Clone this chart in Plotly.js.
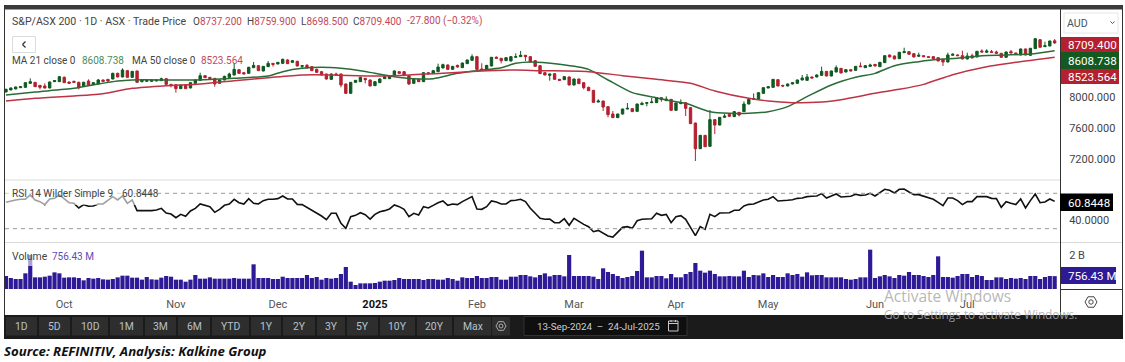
<!DOCTYPE html>
<html><head><meta charset="utf-8">
<script src="https://cdn.plot.ly/plotly-3.0.1.min.js"></script>
<style>html,body{margin:0;padding:0;background:#fff;overflow:hidden}#c{width:1125px;height:362px}</style>
</head><body><div id="c"></div>
<script>
const tickIndex=[12,35,56,76,97,117,138,157,179,198];
const tickLabels=['Oct','Nov','Dec','<b style="color:#111">2025</b>','Feb','Mar','Apr','May','Jun','Jul'];
const opens=[8072,8098,8111,8128,8132,8184,8197,8158,8150,8124,
8206,8206,8262,8202,8210,8197,8145,8215,8167,8176,
8228,8236,8241,8314,8267,8349,8262,8345,8206,8210,
8210,8215,8219,8245,8171,8167,8115,8167,8124,8184,
8223,8284,8262,8249,8184,8228,8262,8293,8362,8323,
8314,8388,8414,8345,8401,8444,8436,8444,8488,8457,
8470,8405,8418,8401,8366,8336,8306,8236,8306,8306,
8176,8054,8197,8206,8249,8228,8154,8193,8245,8245,
8284,8336,8336,8284,8184,8236,8206,8323,8310,8336,
8384,8423,8366,8418,8388,8440,8483,8531,8371,8362,
8410,8523,8510,8479,8475,8523,8531,8549,8531,8479,
8414,8323,8288,8310,8236,8232,8267,8163,8241,8193,
8132,8093,7941,7954,7881,7785,7738,7785,7850,7855,
7820,7907,7924,7933,7933,7998,7959,7976,7833,7920,
7933,7868,7668,7334,7508,7365,7712,7642,7742,7781,
7751,7807,7816,7915,7976,7976,8054,8124,8132,8232,
8158,8150,8176,8184,8228,8223,8267,8267,8288,8340,
8280,8332,8379,8332,8362,8353,8410,8388,8405,8431,
8401,8453,8553,8540,8505,8583,8596,8570,8536,8544,
8531,8531,8518,8497,8462,8549,8553,8544,8501,8544,
8527,8605,8588,8596,8592,8575,8523,8596,8579,8553,
8631,8549,8635,8752,8661,8670,8737.2];
const closes=[8106,8124,8137,8141,8193,8206,8141,8132,8124,8202,
8219,8271,8193,8184,8197,8128,8197,8158,8193,8228,
8210,8215,8314,8267,8358,8262,8340,8197,8228,8223,
8228,8228,8245,8171,8154,8115,8163,8115,8193,8228,
8284,8258,8245,8176,8228,8275,8306,8366,8314,8306,
8392,8418,8349,8405,8444,8431,8457,8497,8440,8479,
8410,8414,8384,8349,8327,8293,8241,8306,8297,8163,
8054,8197,8223,8262,8232,8150,8206,8241,8271,8284,
8345,8314,8284,8176,8236,8206,8323,8310,8349,8397,
8427,8366,8405,8397,8449,8488,8531,8366,8358,8418,
8523,8510,8479,8518,8531,8531,8549,8531,8462,8405,
8310,8293,8306,8236,8223,8271,8163,8241,8180,8128,
8089,7937,7954,7876,7777,7738,7785,7850,7859,7816,
7915,7924,7933,7941,7998,7972,7980,7833,7928,7933,
7859,7660,7334,7508,7360,7712,7642,7742,7759,7755,
7816,7772,7915,7976,7985,8063,8128,8141,8236,8150,
8150,8176,8193,8228,8254,8267,8254,8293,8340,8280,
8345,8388,8319,8362,8345,8405,8401,8414,8423,8410,
8457,8544,8527,8501,8588,8596,8562,8527,8549,8531,
8523,8505,8475,8462,8553,8562,8544,8501,8540,8514,
8601,8592,8605,8588,8575,8523,8592,8579,8557,8631,
8553,8640,8765,8653,8674,8735,8709.4];
const highs=[8115,8128,8141,8150,8197,8249,8202,8163,8184,8206,
8223,8279,8275,8206,8219,8206,8206,8236,8197,8241,
8232,8241,8323,8323,8379,8358,8345,8349,8232,8232,
8236,8232,8258,8249,8176,8171,8167,8171,8202,8236,
8323,8288,8267,8254,8232,8284,8323,8444,8366,8327,
8401,8462,8423,8410,8475,8448,8462,8505,8497,8488,
8479,8423,8436,8410,8375,8340,8310,8314,8323,8310,
8180,8202,8228,8271,8254,8232,8210,8249,8293,8293,
8353,8340,8345,8288,8241,8241,8332,8327,8358,8440,
8440,8431,8410,8427,8453,8492,8562,8536,8445,8423,
8527,8536,8514,8523,8536,8575,8605,8553,8536,8483,
8418,8327,8310,8314,8241,8280,8271,8245,8245,8197,
8141,8098,7976,7958,7885,7824,7790,7855,7928,7859,
7920,7945,7937,7993,8004,8002,8015,7980,7933,7976,
7937,7872,7672,7512,7512,7837,7716,7746,7785,7790,
7820,7811,7950,7980,8052,8067,8132,8145,8241,8236,
8163,8180,8202,8232,8293,8306,8271,8301,8401,8345,
8349,8418,8384,8366,8366,8410,8457,8423,8440,8436,
8462,8549,8557,8544,8592,8648,8601,8575,8583,8549,
8536,8540,8523,8501,8583,8575,8562,8609,8583,8570,
8605,8627,8627,8618,8609,8579,8596,8618,8583,8635,
8635,8644,8770,8757,8726,8740,8759.9];
const lows=[8067,8094,8106,8124,8128,8176,8137,8106,8115,8119,
8202,8202,8189,8176,8193,8106,8141,8150,8163,8171,
8206,8193,8236,8262,8262,8258,8258,8193,8197,8202,
8202,8210,8215,8163,8132,8063,8111,8111,8119,8180,
8219,8254,8241,8141,8180,8223,8258,8288,8310,8301,
8310,8384,8345,8340,8397,8401,8431,8440,8436,8453,
8405,8379,8379,8345,8323,8288,8232,8232,8297,8132,
8050,8050,8193,8202,8184,8145,8150,8189,8241,8241,
8280,8310,8280,8163,8180,8202,8202,8300,8306,8332,
8379,8362,8362,8388,8384,8436,8479,8362,8353,8358,
8405,8505,8444,8475,8470,8518,8527,8475,8457,8401,
8306,8288,8219,8232,8219,8228,8158,8158,8176,8106,
8084,7933,7937,7824,7742,7735,7733,7780,7846,7811,
7816,7902,7885,7928,7928,7945,7954,7829,7829,7915,
7759,7655,7174,7330,7356,7360,7525,7638,7738,7746,
7746,7755,7811,7911,7972,7972,8050,8119,8128,8145,
8137,8145,8171,8180,8223,8219,8249,8262,8284,8275,
8275,8327,8314,8327,8340,8349,8397,8384,8401,8405,
8397,8449,8523,8497,8501,8579,8558,8523,8531,8527,
8518,8501,8470,8410,8457,8544,8540,8497,8497,8510,
8523,8588,8583,8583,8570,8518,8518,8575,8553,8549,
8549,8544,8631,8648,8657,8665,8698.5];
const ma21Index=[0,6,14,19,23,26,34,39,43,47,54,57,61,65,69,73,76,80,84,88,93,97,102,105,108,114,120,124,129,134,136,140,145,149,153,157,161,165,170,175,179,183,188,192,196,201,206,211,216];
const ma21=[8033,8072,8119,8176,8215,8228,8228,8228,8236,8249,8280,8336,8379,8392,8379,8349,8314,8271,8245,8245,8314,8349,8388,8444,8462,8431,8366,8228,8063,7998,7967,7924,7816,7794,7794,7816,7881,8011,8163,8262,8314,8414,8466,8497,8510,8544,8553,8566,8608.738];
const ma50Index=[0,6,14,19,26,33,40,47,54,61,67,76,83,86,90,97,105,110,120,127,134,141,146,153,157,162,167,172,179,184,189,195,201,208,216];
const ma50=[7954,7989,8020,8041,8119,8154,8176,8219,8258,8293,8293,8280,8293,8306,8314,8340,8358,8349,8336,8284,8236,8184,8085,7989,7954,7933,7937,7972,8054,8106,8171,8297,8388,8457,8523.564];
const rsi=[59.8,61.3,62.5,63.2,63.2,68.1,62.5,60.6,57.2,63.6,
64.3,68.1,63.2,59.4,58.7,53.4,57.2,55.3,55.7,57.9,
57.9,62.5,66.2,62.5,67,58.7,62.5,50.4,50.8,50.4,
50.4,51.1,53,47.7,46.6,42.4,46.2,44,50,53,
57.9,56.4,54.9,48.5,51.9,56.4,57.9,63.2,59.4,57.9,
64,58.7,57.9,61.7,63.2,63.2,64,67,63.6,63.6,
57.5,57.2,54.1,50.4,47.4,44.3,40.2,47.4,47.4,36,
30.4,43.6,45.1,48.1,45.8,40.9,46.2,49.2,50.4,52.3,
56.8,54.9,51.9,43.6,47.4,45.5,54.9,53.4,56.4,59.4,
61.3,56.4,57.9,57.2,60.6,63.6,66.2,52.3,51.9,54.9,
61.3,60.2,57.9,57.9,61.7,62.1,63.2,60.6,53,47.4,
41.7,40.6,40.9,36.8,36.8,41.3,33.8,41.7,37.9,34.9,
32.3,26.6,28.1,24.7,21.7,20.6,25.8,31.5,32.3,30.4,
39,40.6,40.9,41.3,47.4,45.1,46.2,36.8,43.6,44.7,
40.6,31.5,22.1,32.3,29.2,46.2,43.6,47.7,48.1,48.1,
50.8,50.8,55.7,57.5,57.9,60.6,62.5,63.2,66.2,61.3,
61.3,62.1,62.8,64.3,64.7,66.2,66.6,67,69.6,64.7,
67,69.2,65.8,65.8,66.6,68.9,67.7,68.1,70,67,
70.8,74.5,73.4,70.4,74.5,74.9,71.5,68.5,68.5,67,
65.5,63.2,59.8,56,64.7,64.7,61.7,57.2,60.6,60.6,
66.2,66.2,66.2,64.3,64,54.1,60.6,58.7,57.2,63.6,
53.4,61.7,69.2,59.4,60.2,63.6,60.8448];
const volumeM=[765,647,588,588,922,2000,686,686,725,784,
980,922,667,686,686,647,510,647,608,647,
569,549,588,686,784,784,667,667,549,706,
569,549,667,765,725,549,549,431,549,824,
608,608,686,608,608,608,608,647,608,608,
608,1451,647,647,647,588,588,725,647,647,
647,647,824,647,706,549,647,608,647,882,
1294,431,235,333,333,333,353,431,490,490,
529,647,588,588,588,588,529,588,588,549,
549,647,588,490,686,647,647,765,647,647,
706,706,549,549,725,725,824,824,745,686,
824,922,745,824,824,745,2000,765,765,765,
765,725,588,1216,1000,882,765,647,706,765,
1059,2255,686,686,765,765,627,882,686,686,
882,1000,1529,1078,961,1078,882,745,745,765,
745,745,1078,706,824,804,922,706,824,706,
706,922,824,882,725,980,804,824,824,686,
686,686,686,588,549,588,686,686,2314,647,
745,824,745,647,824,784,1000,824,824,765,
706,824,1922,706,706,667,765,882,882,706,
824,765,529,529,686,686,588,647,608,647,
588,765,765,588,706,765,756.43];
const rangeButtons=['1D','5D','10D','1M','3M','6M','YTD','1Y','2Y','3Y','5Y','10Y','20Y','Max'];
const buttonEdges=[[6,37],[39,70],[72,108],[110,143],[145,176],[178,210],[212,249],[251,281],[283,315],[317,345],[347,378],[380,415],[417,452],[454,491]];

const W=1125,H=362,fx=x=>x/W,fy=y=>1-y/H;
const index=opens.map((_,i)=>i);
const FONT='Roboto, Arial, sans-serif';
const RED='#b3202f',GREEN='#0f5a20',PURPLE='#2e1a96';
const traces=[
 {type:'candlestick',x:index,open:opens,high:highs,low:lows,close:closes,xaxis:'x',yaxis:'y',
  increasing:{line:{color:GREEN,width:1},fillcolor:GREEN},decreasing:{line:{color:RED,width:1},fillcolor:RED},whiskerwidth:0,hoverinfo:'skip',showlegend:false},
 {type:'scatter',mode:'lines',x:ma21Index,y:ma21,xaxis:'x',yaxis:'y',line:{color:'#2a6b36',width:1.5,shape:'spline',smoothing:0.7},hoverinfo:'skip',showlegend:false},
 {type:'scatter',mode:'lines',x:ma50Index,y:ma50,xaxis:'x',yaxis:'y',line:{color:'#bd3344',width:1.5,shape:'spline',smoothing:0.7},hoverinfo:'skip',showlegend:false},
 {type:'scatter',mode:'lines',x:index,y:rsi,xaxis:'x',yaxis:'y2',line:{color:'#111',width:1.6},hoverinfo:'skip',showlegend:false},
 {type:'bar',x:index,y:volumeM,xaxis:'x',yaxis:'y3',marker:{color:PURPLE,line:{width:0}},hoverinfo:'skip',showlegend:false}
];
function rect(x0,y0,x1,y1,fill,line,layer){return {type:'rect',xref:'paper',yref:'paper',x0:fx(x0),x1:fx(x1),y0:fy(y0),y1:fy(y1),fillcolor:fill||'rgba(0,0,0,0)',line:line||{width:0},layer:layer||'above'};}
function seg(x0,y0,x1,y1,color,w,dash){return {type:'line',xref:'paper',yref:'paper',x0:fx(x0),x1:fx(x1),y0:fy(y0),y1:fy(y1),line:{color:color,width:w||1,dash:dash||'solid'},layer:'above'};}
function poly(pts,color,w){return {type:'path',xref:'paper',yref:'paper',path:'M'+pts.map(p=>fx(p[0])+','+fy(p[1])).join(' L')+' Z',line:{color:color,width:w||1},fillcolor:'rgba(0,0,0,0)',layer:'above'};}
function circ(cx,cy,r,color){return {type:'circle',xref:'paper',yref:'paper',x0:fx(cx-r),x1:fx(cx+r),y0:fy(cy+r),y1:fy(cy-r),line:{color:color,width:1},fillcolor:'rgba(0,0,0,0)',layer:'above'};}
function hex(cx,cy,r){return [[cx-r,cy],[cx-r/2,cy-r*.87],[cx+r/2,cy-r*.87],[cx+r,cy],[cx+r/2,cy+r*.87],[cx-r/2,cy+r*.87]];}
function txt(x,y,text,o){o=o||{};return {xref:'paper',yref:'paper',x:fx(x),y:fy(y),text:text,showarrow:false,xanchor:o.anchor||'left',yanchor:'middle',borderpad:0,borderwidth:0,
  font:{family:o.family||FONT,size:o.size||11,color:o.color||'#444'}};}
const shapes=[
 seg(5,193.3,1060,193.3,'#999',1,'4px,4px'),
 seg(5,228.7,1060,228.7,'#999',1,'4px,4px'),
 rect(5.5,186,136,205,'rgba(255,255,255,.6)'),
 rect(11,249,94,266,'rgba(255,255,255,.6)'),
 seg(5,180,1060,180,'#dcdcdc',1.2),
 seg(5,242.5,1122,242.5,'#dcdcdc',1.2),
 seg(1060.5,9,1060.5,315,'#333',1),
 seg(1060.5,289.5,1122,289.5,'#333',1),
 rect(4,5,1123,9.5,'#3b3b3b'),
 seg(4.5,5,4.5,339,'#333',1),
 seg(1122.5,5,1122.5,339,'#333',1),
 rect(4,315,1123,339,'#1b1b1b'),
 rect(1064,13,1118,33,'#fff',{color:'#e6e6e6',width:1}),
 {type:'rect',xref:'paper',yref:'paper',x0:fx(12.5),x1:fx(35.5),y0:fy(52.5),y1:fy(36.5),line:{color:'#dcdcdc',width:1},fillcolor:'#fff',layer:'above'},
 seg(25.5,41.5,22.5,44.5,'#333',1.2),seg(22.5,44.5,25.5,47.5,'#333',1.2),
 seg(1110.5,21.5,1112.5,23.5,'#555',1),seg(1112.5,23.5,1114.5,21.5,'#555',1),
 rect(1061,37,1119,52,RED),
 rect(1061,52,1119,69,'#14591f'),
 rect(1061,69,1119,84,RED),
 rect(1060,193.5,1113,211,'#000'),
 rect(1061,267,1116,284,PURPLE),
 poly(hex(1091,302,6),'#444',1),circ(1091,302,2.2,'#444'),
 rect(492,317,510,335.5,'#2e2e2e'),
 poly(hex(501,326,5),'#aaa',1),circ(501,326,2,'#aaa'),
 rect(524,316.5,687,335.5,'#0f0f0f',{color:'#333',width:1}),
 rect(668.5,321,678,331,'rgba(0,0,0,0)',{color:'#c8c8c8',width:1}),
 seg(668.5,323.5,678,323.5,'#c8c8c8',1),seg(671,320,671,322,'#c8c8c8',1),seg(675.5,320,675.5,322,'#c8c8c8',1)
];
buttonEdges.forEach(e=>shapes.push(rect(e[0],317,e[1],335.5,'#2e2e2e')));
const RV='#c2485a';
const annotations=[
 txt(12,21,'S&P/ASX 200 · 1D · ASX · Trade Price',{size:10.6}),
 txt(192.5,21,`O<span style="color:${RV}">8737.200</span>`,{size:10}),
 txt(247,21,`H<span style="color:${RV}">8759.900</span>`,{size:10}),
 txt(300.5,21,`L<span style="color:${RV}">8698.500</span>`,{size:10}),
 txt(353,21,`C<span style="color:${RV}">8709.400</span>`,{size:10}),
 txt(407,21,`<span style="color:${RV}">-27.800 (−0.32%)</span>`,{size:10}),
 txt(12,60,'MA 21 close 0',{size:10}),
 txt(82,60,'8608.738',{size:10,color:'#4c8c5a'}),
 txt(132,60,'MA 50 close 0',{size:10}),
 txt(201,60,'8523.564',{size:10,color:RV}),
 txt(12,193,'RSI 14 Wilder Simple 9',{size:10.1}),
 txt(122,193,'60.8448',{size:10}),
 txt(12,256,'Volume',{size:10.4}),
 txt(52,256,'756.43 M',{size:10,color:'#5b4db5'}),
 txt(1067,23,'AUD',{size:10.6,color:'#456'}),
 txt(1068,45,'8709.400',{color:'#fff',size:11.6}),
 txt(1068,61,'8608.738',{color:'#fff',size:11.6}),
 txt(1068,77,'8523.564',{color:'#fff',size:11.6}),
 txt(1068,202.5,'60.8448',{color:'#fff',size:11.6}),
 txt(1068,276,'756.43 M',{color:'#fff',size:11.6}),
 txt(884,296,'Activate Windows',{family:'"Open Sans", sans-serif',size:15.5,color:'rgba(170,170,170,.85)'}),
 txt(884,314,'Go to Settings to activate Windows.',{family:'"Open Sans", sans-serif',size:11.8,color:'rgba(170,170,170,.85)'}),
 txt(537,326.5,'13-Sep-2024  –  24-Jul-2025',{size:9.8,color:'#c8ced4'}),
 txt(4,351,'<b><i>Source: REFINITIV, Analysis: Kalkine Group</i></b>',{family:'"Open Sans", sans-serif',size:13.2,color:'#111'})
];
rangeButtons.forEach((b,i)=>annotations.push(txt((buttonEdges[i][0]+buttonEdges[i][1])/2,326.5,b,{anchor:'center',size:10.4,color:'#b6c2cc'})));
const xRange=[-0.2,217.1];
const layout={width:W,height:H,margin:{l:0,r:0,t:0,b:0},paper_bgcolor:'#fff',plot_bgcolor:'rgba(0,0,0,0)',showlegend:false,bargap:0.14,boxgap:0.3,
 font:{family:FONT,size:11,color:'#444'},
 xaxis:{domain:[fx(5),fx(1060)],range:xRange,anchor:'y3',type:'linear',tickmode:'array',tickvals:tickIndex,ticktext:tickLabels,
  showgrid:false,zeroline:false,showline:false,ticks:'outside',ticklen:5,tickcolor:'rgba(0,0,0,0)',tickfont:{size:11,color:'#555'},rangeslider:{visible:false}},
 yaxis:{domain:[fy(180),fy(10)],range:[6927,9138],anchor:'x',side:'right',tickmode:'array',tickvals:[7200,7600,8000],tickformat:'.3f',
  showgrid:false,zeroline:false,showline:false,ticks:'outside',ticklen:6,tickcolor:'rgba(0,0,0,0)',tickfont:{size:11,color:'#444'}},
 yaxis2:{domain:[fy(242.5),fy(181)],range:[14.4,83.9],anchor:'x',side:'right',tickmode:'array',tickvals:[40],tickformat:'.4f',
  showgrid:false,zeroline:false,showline:false,ticks:'outside',ticklen:6,tickcolor:'rgba(0,0,0,0)',tickfont:{size:11,color:'#444'}},
 yaxis3:{domain:[fy(289),fy(243)],range:[0,2706],anchor:'x',side:'right',tickmode:'array',tickvals:[2000],ticktext:['2 B'],
  showgrid:false,zeroline:false,showline:false,ticks:'outside',ticklen:6,tickcolor:'rgba(0,0,0,0)',tickfont:{size:11,color:'#444'}},
 shapes:shapes,annotations:annotations};
Plotly.newPlot('c',traces,layout,{staticPlot:true,displayModeBar:false});
</script></body></html>
